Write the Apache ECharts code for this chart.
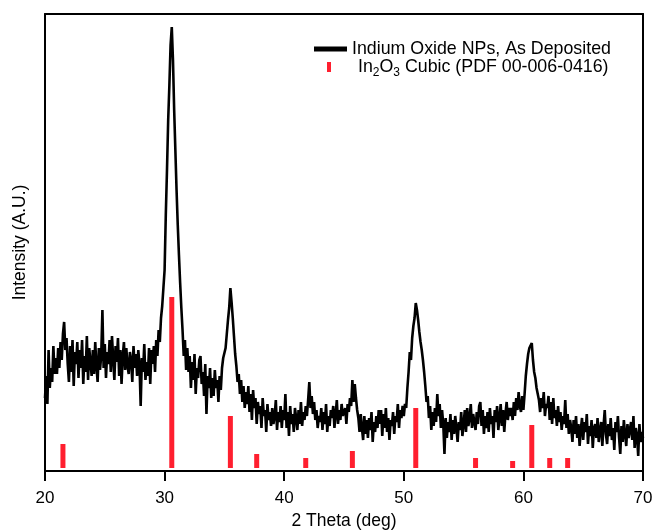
<!DOCTYPE html>
<html>
<head>
<meta charset="utf-8">
<script src="https://cdn.jsdelivr.net/npm/echarts@6/dist/echarts.min.js"></script>
<style>
  html, body { margin: 0; padding: 0; background: #fff; }
  #chart { width: 652px; height: 530px; }
</style>
</head>
<body>
<div id="chart"></div>
<script>
// 2 theta sampling grid (deg)
const thetaStart = 20;
const thetaStep = 0.1;

// measured intensity, one row per degree (20.0 .. 69.9, then 70.0)
const intensity = [
  70, 92, 64, 118, 80, 100, 86, 122, 94, 110,
  94, 120, 100, 126, 108, 134, 146, 118, 130, 104,
  86, 122, 96, 128, 82, 116, 104, 126, 90, 118,
  100, 128, 84, 112, 96, 132, 88, 120, 106, 92,
  118, 94, 126, 102, 86, 120, 98, 112, 158, 100,
  124, 90, 116, 104, 128, 96, 132, 110, 88, 122,
  106, 130, 92, 118, 84, 112, 126, 98, 120, 102,
  94, 116, 108, 86, 122, 100, 114, 92, 118, 104,
  62, 110, 96, 124, 88, 106, 92, 120, 84, 118,
  104, 122, 96, 128, 112, 138, 126, 150, 162, 180,
  198, 253, 298, 348, 383, 423, 441, 408, 358, 318,
  278, 243, 213, 185, 160, 138, 112, 128, 98, 120,
  96, 112, 80, 106, 88, 114, 74, 100, 90, 108,
  112, 84, 96, 72, 104, 54, 92, 80, 100, 70,
  90, 72, 98, 80, 88, 66, 92, 78, 100, 110,
  112, 120, 134, 148, 160, 180, 166, 150, 132, 114,
  102, 86, 94, 74, 88, 66, 82, 60, 76, 64,
  82, 56, 74, 48, 78, 60, 70, 44, 66, 54,
  62, 40, 70, 52, 58, 36, 64, 48, 56, 42,
  60, 44, 52, 68, 38, 56, 46, 62, 40, 58,
  48, 74, 40, 56, 32, 62, 44, 54, 36, 60,
  50, 38, 58, 44, 66, 42, 56, 48, 62, 52,
  68, 86, 60, 72, 54, 66, 48, 58, 40, 52,
  46, 60, 38, 56, 44, 64, 36, 52, 42, 58,
  50, 62, 40, 54, 68, 44, 58, 48, 64, 52,
  52, 60, 44, 64, 56, 70, 62, 88, 66, 84,
  70, 58, 50, 36, 54, 40, 28, 52, 34, 48,
  30, 50, 38, 56, 26, 46, 36, 52, 40, 58,
  44, 58, 32, 54, 40, 60, 36, 50, 28, 48,
  42, 56, 34, 52, 46, 64, 40, 58, 50, 62,
  52, 64, 60, 80, 96, 116, 108, 130, 142, 150,
  165, 158, 148, 136, 126, 118, 108, 96, 82, 66,
  72, 50, 62, 38, 56, 42, 60, 46, 74, 52,
  64, 40, 58, 44, 14, 50, 30, 46, 36, 54,
  28, 48, 34, 52, 40, 26, 46, 38, 56, 32,
  44, 58, 36, 60, 42, 50, 64, 40, 54, 46,
  38, 56, 44, 62, 66, 42, 58, 34, 52, 40,
  56, 36, 60, 44, 52, 30, 58, 46, 62, 38,
  50, 64, 42, 58, 36, 54, 66, 48, 60, 52,
  60, 48, 66, 52, 70, 58, 76, 62, 56, 72,
  58, 74, 92, 104, 114, 120, 118, 125, 108, 96,
  90, 80, 74, 68, 56, 70, 60, 76, 52, 64,
  60, 72, 48, 66, 44, 70, 50, 58, 42, 62,
  46, 56, 38, 52, 44, 68, 40, 54, 34, 48,
  40, 26, 48, 34, 52, 30, 44, 22, 38, 50,
  28, 46, 36, 54, 24, 42, 32, 48, 20, 40,
  44, 30, 50, 26, 38, 46, 22, 42, 58, 34,
  24, 44, 32, 50, 28, 40, 18, 46, 36, 52,
  30, 14, 42, 26, 48, 34, 22, 44, 30, 38,
  46, 28, 52, 20, 40, 32, 12, 44, 26, 36,
  30
];

// In2O3 cubic reference pattern (PDF 00-006-0416)
const refAngles = [21.5, 30.6, 35.5, 37.7, 41.8, 45.7, 51.0, 56.0, 59.1, 60.7, 62.2, 63.7];
const refHeights = [24, 171, 52, 14, 10, 17, 60, 10, 7, 43, 10, 10];

const sampleName = 'Indium Oxide NPs, As Deposited';
const refName = 'In2O3 Cubic (PDF 00-006-0416)';

const font = "'Liberation Sans', Arial, Helvetica, sans-serif";

const lineData = intensity.map((v, i) => [+(thetaStart + i * thetaStep).toFixed(1), v]);
const barData = refAngles.map((a, i) => [a, refHeights[i]]);

const chart = echarts.init(document.getElementById('chart'));
chart.setOption({
  animation: false,
  backgroundColor: '#fff',
  textStyle: { fontFamily: font },
  grid: { left: 45, right: 9, top: 14, bottom: 59, containLabel: false, outerBoundsMode: 'none' },
  legend: [
    {
      data: [sampleName],
      left: 314, top: 40, padding: 0,
      icon: 'rect', itemWidth: 33, itemHeight: 5,
      selectedMode: false,
      textStyle: { fontSize: 17.8, color: '#000', fontFamily: font }
    },
    {
      data: [refName],
      left: 327, top: 58, padding: 0,
      icon: 'rect', itemWidth: 4, itemHeight: 10,
      selectedMode: false,
      formatter: () => '{a|In}{s|2}{n|O}{s|3}{n| Cubic (PDF 00-006-0416)}',
      textStyle: {
        color: '#000', fontFamily: font,
        rich: {
          a: { fontSize: 17.8, lineHeight: 23, padding: [0, 0, 0, 22], color: '#000', fontFamily: font },
          n: { fontSize: 17.8, lineHeight: 23, color: '#000', fontFamily: font },
          s: { fontSize: 12, lineHeight: 10, verticalAlign: 'bottom', color: '#000', fontFamily: font }
        }
      }
    }
  ],
  xAxis: [
    {
      type: 'value', min: 20, max: 70, interval: 10,
      name: '2 Theta (deg)', nameLocation: 'middle', nameGap: 41,
      nameTextStyle: { fontSize: 17.5, color: '#000', fontFamily: font },
      axisLine: { show: true, onZero: false, lineStyle: { color: '#000', width: 2 } },
      axisTick: { show: true, inside: false, length: 10, lineStyle: { color: '#000', width: 2 } },
      axisLabel: { margin: 19, fontSize: 17, color: '#000', fontFamily: font },
      splitLine: { show: false }
    },
    {
      type: 'value', min: 20, max: 70, position: 'top',
      axisLine: { show: true, onZero: false, lineStyle: { color: '#000', width: 2 } },
      axisTick: { show: false }, axisLabel: { show: false }, splitLine: { show: false }
    }
  ],
  yAxis: [
    {
      type: 'value', min: -3, max: 454,
      name: 'Intensity (A.U.)', nameLocation: 'middle', nameGap: 16, nameRotate: 90,
      nameTextStyle: { fontSize: 17.5, color: '#000', fontFamily: font },
      axisLine: { show: true, onZero: false, lineStyle: { color: '#000', width: 2 } },
      axisTick: { show: false }, axisLabel: { show: false }, splitLine: { show: false }
    },
    {
      type: 'value', min: -3, max: 454, position: 'right',
      axisLine: { show: true, onZero: false, lineStyle: { color: '#000', width: 2 } },
      axisTick: { show: false }, axisLabel: { show: false }, splitLine: { show: false }
    }
  ],
  series: [
    {
      name: sampleName, type: 'line', data: lineData,
      showSymbol: false, symbol: 'none', z: 2,
      lineStyle: { color: '#000', width: 2.6 },
      itemStyle: { color: '#000' }
    },
    {
      name: refName, type: 'bar', data: barData,
      barWidth: 5, z: 3,
      itemStyle: { color: '#ff1f2f' }
    }
  ]
});
</script>
</body>
</html>
